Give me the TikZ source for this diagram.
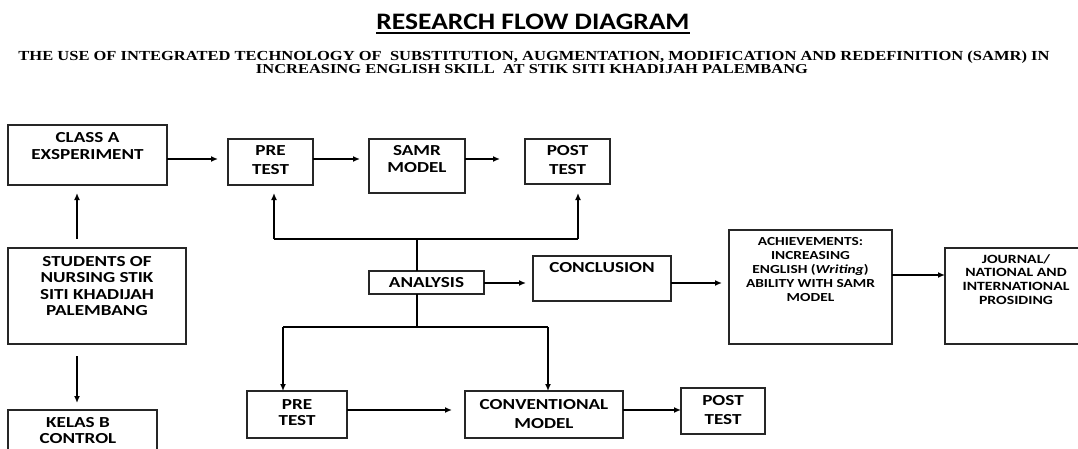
\documentclass[tikz,border=0pt]{standalone}
\usepackage{fontspec}
\setmainfont{Carlito}
\newfontfamily\subfont{Liberation Serif}
\usepackage{graphicx}
\usetikzlibrary{arrows.meta}

% box captions: centred lines, widened a little
\newcommand\boxtext[1]{\scalebox{1.25}[1]{\begin{tabular}[t]{@{}c@{}}#1\end{tabular}}}

\tikzset{
  box/.style={draw=black!85, line width=1.2pt, inner sep=0pt, outer sep=0pt},
  big/.style={anchor=base, inner sep=0pt, font=\bfseries\fontsize{15.3}{16.3}\selectfont},
  bigwide/.style={anchor=base, inner sep=0pt, font=\bfseries\fontsize{15.3}{19}\selectfont},
  small/.style={anchor=base, inner sep=0pt, font=\bfseries\fontsize{12.3}{14}\selectfont},
  link/.style={line width=1.2pt},
  arr/.style={line width=1.6pt, -{Latex[length=7pt,width=6pt]}},
  arrthick/.style={line width=2.2pt, -{Latex[length=7pt,width=6pt]}},
}

\begin{document}
\begin{tikzpicture}[x=1pt, y=-1pt]
  \fill[white] (0,0) rectangle (1078,449);
  \useasboundingbox (0,0) rectangle (1078,449);

  % heading
  \node[anchor=base, inner sep=0pt] (title) at (533,30)
    {\resizebox{313pt}{15.5pt}{\bfseries RESEARCH FLOW DIAGRAM}};
  \draw[line width=1.6pt] ([yshift=-3pt]title.base west) -- ([yshift=-3pt]title.base east);
  \node[anchor=base, inner sep=0pt] (sub1) at (534,61)
    {\resizebox{1031pt}{9.6pt}{\subfont\bfseries THE USE OF INTEGRATED TECHNOLOGY OF\ \ SUBSTITUTION, AUGMENTATION, MODIFICATION AND REDEFINITION (SAMR) IN}};
  \node[anchor=base, inner sep=0pt] (sub2) at (532,74)
    {\resizebox{552pt}{9pt}{\subfont\bfseries INCREASING ENGLISH SKILL\ \ AT STIK SITI KHADIJAH PALEMBANG}};

  % boxes
  \node[box, minimum width=159pt, minimum height=60pt]  (classA)     at (87.5,155)   {};
  \node[box, minimum width=85pt,  minimum height=46pt]  (preTop)     at (270.5,162)  {};
  \node[box, minimum width=96pt,  minimum height=54pt]  (samr)       at (417,166)    {};
  \node[box, minimum width=85pt,  minimum height=45pt]  (postTop)    at (567.5,161.5){};
  \node[box, minimum width=178pt, minimum height=96pt]  (students)   at (97,296)     {};
  \node[box, minimum width=115pt, minimum height=23pt]  (analysis)   at (426.5,282.5){};
  \node[box, minimum width=138pt, minimum height=45pt]  (conclusion) at (602,278.5)  {};
  \node[box, minimum width=163pt, minimum height=114pt] (ach)        at (810.5,287)  {};
  \node[box, minimum width=145pt, minimum height=96pt]  (journal)    at (1017.5,296) {};
  \node[box, minimum width=149pt, minimum height=50pt]  (kelas)      at (82.5,435)   {};
  \node[box, minimum width=100pt, minimum height=47pt]  (preBot)     at (297,414.5)  {};
  \node[box, minimum width=158pt, minimum height=47pt]  (conv)       at (544,414.5)  {};
  \node[box, minimum width=84pt,  minimum height=46pt]  (postBot)    at (723,411)    {};

  % captions
  \node[big]     (classA-t)     at ([yshift=-18pt]classA.north)   {\boxtext{CLASS A\\EXSPERIMENT}};
  \node[bigwide] (preTop-t)     at ([yshift=-17pt]preTop.north)   {\boxtext{PRE\\TEST}};
  \node[big]     (samr-t)       at ([yshift=-17pt]samr.north)     {\boxtext{SAMR\\MODEL}};
  \node[bigwide] (postTop-t)    at ([yshift=-17pt]postTop.north)  {\boxtext{POST\\TEST}};
  \node[big, font=\bfseries\fontsize{15.3}{16.6}\selectfont] (students-t) at ([yshift=-18pt]students.north)
    {\boxtext{STUDENTS OF\\NURSING STIK\\SITI KHADIJAH\\PALEMBANG}};
  \node[big]     (analysis-t)   at ([yshift=-16.3pt]analysis.north)   {\boxtext{ANALYSIS}};
  \node[big]     (conclusion-t) at ([yshift=-16.3pt]conclusion.north) {\boxtext{CONCLUSION}};
  \node[small]   (ach-t)        at ([yshift=-15pt]ach.north)
    {\boxtext{ACHIEVEMENTS:\\INCREASING\\ENGLISH (\textit{Writing})\\ABILITY WITH SAMR\\MODEL}};
  \node[small, font=\bfseries\fontsize{12.6}{13.6}\selectfont] (journal-t) at ([yshift=-15.3pt, xshift=-1.5pt]journal.north)
    {\boxtext{JOURNAL/\\NATIONAL AND\\INTERNATIONAL\\PROSIDING}};
  \node[big]     (kelas-t)      at ([yshift=-17pt, xshift=-4.5pt]kelas.north) {\boxtext{KELAS B\\CONTROL}};
  \node[big, font=\bfseries\fontsize{15.3}{15.7}\selectfont] (preBot-t) at ([yshift=-18.3pt]preBot.north) {\boxtext{PRE\\TEST}};
  \node[bigwide] (conv-t)       at ([yshift=-18.3pt]conv.north)    {\boxtext{CONVENTIONAL\\MODEL}};
  \node[bigwide] (postBot-t)    at ([yshift=-17pt]postBot.north)   {\boxtext{POST\\TEST}};

  % top row
  \draw[arr, shorten >=10pt] ([yshift=-4pt]classA.east) -- ([yshift=3pt]preTop.west);
  \draw[arr, shorten >=9pt]  ([yshift=3pt]preTop.east) -- ([yshift=7pt]samr.west);
  \draw[arr, shorten >=25pt] ([yshift=7pt]samr.east) -- ([yshift=2.5pt]postTop.west);

  % students to both classes
  \draw[arrthick, shorten <=9pt, shorten >=8pt]
    ([xshift=-20pt]students.north) -- ([xshift=-20pt]students.north |- classA.south);
  \draw[arrthick, shorten <=12pt, shorten >=7pt]
    ([xshift=-20pt]students.south) -- ([xshift=-20pt]students.south |- kelas.north);

  % analysis feeding back to the tests above
  \coordinate (jt) at (417,239);
  \coordinate (bl) at (274,239);
  \coordinate (br) at (578,239);
  \draw[link] (analysis.north -| jt) -- (jt);
  \draw[link] (bl) -- (br);
  \draw[arrthick, shorten >=8pt] (bl) -- (preTop.south -| bl);
  \draw[arrthick, shorten >=9pt] (br) -- (postTop.south -| br);

  % analysis feeding the control group below
  \coordinate (jb) at (417,327);
  \coordinate (bbl) at (283,327);
  \coordinate (bbr) at (548,327);
  \draw[link] (analysis.south -| jb) -- (jb);
  \draw[link] (bbl) -- (bbr);
  \draw[arrthick] (bbl) -- (preBot.north -| bbl);
  \draw[arrthick] (bbr) -- (conv.north -| bbr);

  % results chain
  \draw[arr, shorten >=7pt] ([yshift=-0.5pt]analysis.east) -- ([yshift=-0.5pt]analysis.east -| conclusion.west);
  \draw[arr, shorten >=7pt] ([yshift=-4.5pt]conclusion.east) -- ([yshift=-4.5pt]conclusion.east -| ach.west);
  \draw[arr] ([yshift=12pt]ach.east) -- ([yshift=12pt]ach.east -| journal.west);

  % bottom row
  \draw[arr, shorten >=13pt] ([yshift=4.5pt]preBot.east) -- ([yshift=4.5pt]preBot.east -| conv.west);
  \draw[arr] ([yshift=4.5pt]conv.east) -- ([yshift=4.5pt]conv.east -| postBot.west);
\end{tikzpicture}
\end{document}
